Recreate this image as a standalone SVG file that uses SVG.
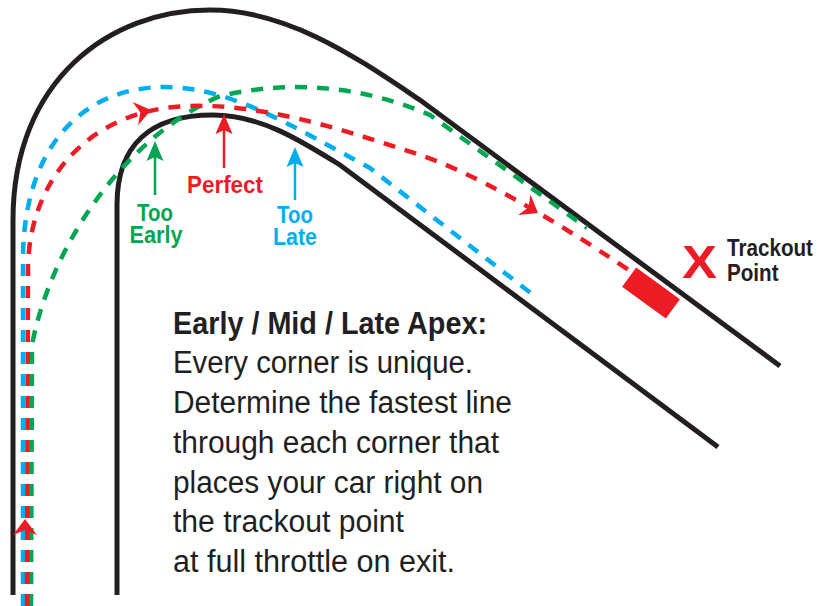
<svg xmlns="http://www.w3.org/2000/svg" xmlns:xlink="http://www.w3.org/1999/xlink" width="822" height="606" viewBox="0 0 822 606">
<style>
.track{fill:none;stroke:#231f20;stroke-width:5;stroke-linecap:butt}
.dash{fill:none;stroke-width:4.5;stroke-dasharray:12 10}
.blue{stroke:#00aeef}
.red{stroke:#ed1c24}
.green{stroke:#00a651}
.lbl{font-family:"Liberation Sans",Arial,sans-serif;font-weight:bold;font-size:24px}
.body{font-family:"Liberation Sans",Arial,sans-serif;font-size:31px;fill:#231f20}
</style>
<defs>
<path id="ah" d="M0,0 L-16,-12 L-11,0 L-16,12 Z"/>
<path id="ptr" d="M0,0 L-8.5,20 L0,16 L8.5,20 Z"/>
</defs>
<rect width="822" height="606" fill="#fff"/>
<g id="track">
<path class="track" d="M13,595 L13,220 C13,80 110,10 210,10 C290,10 360,60 420,100 L780,366"/>
<path class="track" d="M117,595 L117,205 C117,145 150,115 213,115 C260,115 300,140 340,165 L718,447"/>
</g>
<g id="connectors">
<path class="dash blue" d="M23,606 L23,260 C23,150 80,87 165,87 C230,87 290,125 370,168 L537,298"/>
<path class="dash green" d="M31,606 L32,345 C50,250 120,140 220,96 C290,80 360,85 430,115 L587,228"/>
<path class="dash red" d="M27,606 L28,270 C28,180 90,108 190,106 C260,104 330,125 420,155 C470,172 540,210 633,273"/>
<g fill="#ed1c24">
<use xlink:href="#ah" transform="translate(25,519) rotate(-90)"/>
<use xlink:href="#ah" transform="translate(151,110) rotate(-13)"/>
<use xlink:href="#ah" transform="translate(538,213) rotate(31)"/>
</g>
</g>
<g id="car">
<rect x="-27" y="-12" width="54" height="24" fill="#ed1c24" transform="translate(651,293) rotate(36)"/>
</g>
<g id="too-early">
<line x1="155" y1="195" x2="155" y2="150" stroke="#00a651" stroke-width="2.5"/>
<use xlink:href="#ptr" transform="translate(155,141)" fill="#00a651"/>
<text class="lbl" fill="#00a651" x="155" y="221" text-anchor="middle" textLength="36" lengthAdjust="spacingAndGlyphs">Too</text>
<text class="lbl" fill="#00a651" x="156" y="243" text-anchor="middle" textLength="53" lengthAdjust="spacingAndGlyphs">Early</text>
</g>
<g id="perfect">
<line x1="224" y1="168" x2="224" y2="124" stroke="#ed1c24" stroke-width="2.5"/>
<use xlink:href="#ptr" transform="translate(224,114)" fill="#ed1c24"/>
<text class="lbl" fill="#ed1c24" x="187" y="193" textLength="76" lengthAdjust="spacingAndGlyphs">Perfect</text>
</g>
<g id="too-late">
<line x1="295" y1="200" x2="295" y2="156" stroke="#00aeef" stroke-width="2.5"/>
<use xlink:href="#ptr" transform="translate(295,147)" fill="#00aeef"/>
<text class="lbl" fill="#00aeef" x="295" y="223" text-anchor="middle" textLength="36" lengthAdjust="spacingAndGlyphs">Too</text>
<text class="lbl" fill="#00aeef" x="295" y="245" text-anchor="middle" textLength="44" lengthAdjust="spacingAndGlyphs">Late</text>
</g>
<g id="trackout">
<text x="682" y="278" font-family="Liberation Sans,Arial,sans-serif" font-weight="bold" font-size="46" fill="#ed1c24" textLength="35" lengthAdjust="spacingAndGlyphs">X</text>
<text class="lbl" fill="#231f20" transform="translate(727,256) scale(0.86,1)">Trackout</text>
<text class="lbl" fill="#231f20" transform="translate(727,281) scale(0.86,1)">Point</text>
</g>
<g id="description">
<text class="body" x="173" y="334" font-weight="bold" textLength="314" lengthAdjust="spacingAndGlyphs">Early / Mid / Late Apex:</text>
<text class="body" x="173" y="373" textLength="300" lengthAdjust="spacingAndGlyphs">Every corner is unique.</text>
<text class="body" x="173" y="413" textLength="339" lengthAdjust="spacingAndGlyphs">Determine the fastest line</text>
<text class="body" x="173" y="453" textLength="326" lengthAdjust="spacingAndGlyphs">through each corner that</text>
<text class="body" x="173" y="493" textLength="310" lengthAdjust="spacingAndGlyphs">places your car right on</text>
<text class="body" x="173" y="532" textLength="231" lengthAdjust="spacingAndGlyphs">the trackout point</text>
<text class="body" x="173" y="572" textLength="282" lengthAdjust="spacingAndGlyphs">at full throttle on exit.</text>
</g>
</svg>
